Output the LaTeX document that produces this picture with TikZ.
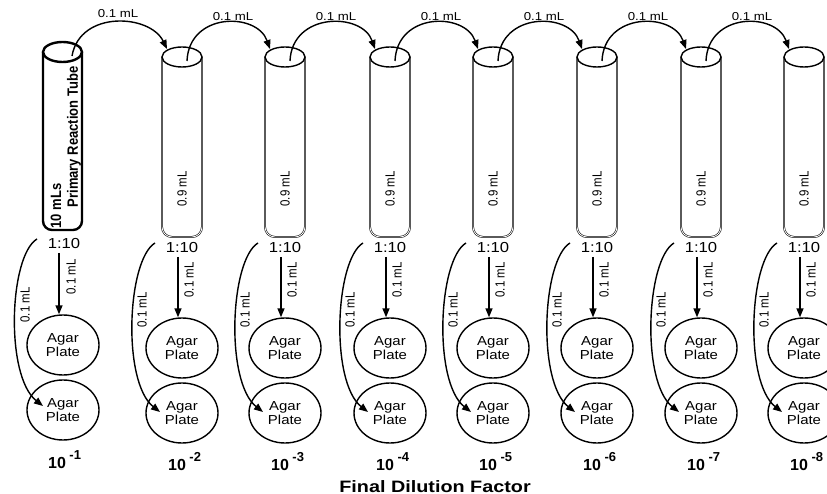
\documentclass[tikz,border=0pt]{standalone}
\usepackage{fontspec}
\setmainfont{Liberation Sans}
\usepackage{graphicx}
\usetikzlibrary{shapes.geometric,arrows.meta,calc}
\newcommand\hsc[1]{\scalebox{1.15}[1]{#1}}
\newcommand\vsc[1]{\scalebox{1}[1.15]{#1}}
\begin{document}
\begin{tikzpicture}[x=1pt,y=-1pt,
  arr/.style={line width=1.4pt,-{Triangle[length=9pt,width=7pt]}},
  plate/.style={ellipse,draw,line width=1.4pt,minimum width=72pt,minimum height=60pt,inner sep=0pt,align=center,font=\fontsize{13}{14}\selectfont},
  ttop/.style={ellipse,draw,line width=1.4pt,minimum width=40pt,minimum height=20pt,inner sep=0pt},
  tubeside/.style={line width=0.55pt,double=white,double distance=0.8pt,rounded corners=10pt},
  vlab/.style={rotate=90,inner sep=0pt,font=\fontsize{11.5}{11.5}\selectfont},
  toplab/.style={inner sep=0pt,font=\fontsize{11.5}{11.5}\selectfont},
  ratio/.style={inner sep=0pt,font=\fontsize{14.5}{14.5}\selectfont},
  factor/.style={anchor=base west,inner sep=0pt,font=\bfseries\fontsize{16}{16}\selectfont}]
\useasboundingbox (0,0) rectangle (827,494);
\clip (0,0) rectangle (827,494);

% primary tube
\draw[line width=2.4pt,rounded corners=9pt] (43,52) -- (43,230) -- (82,230) -- (82,52);
\node[ttop,line width=2.4pt,minimum width=39pt] (t1) at (62.5,52) {};
\node[vlab,font=\bfseries\fontsize{13}{13}\selectfont] (prt) at (74,137) {\vsc{Primary Reaction Tube}};
\node[vlab,font=\bfseries\fontsize{13}{13}\selectfont] (tml) at (56,206) {\vsc{10 mLs}};

% column 1 lower part
\node[ratio] (r1) at (64,244) {\hsc{1:10}};
\node[plate] (pa1) at (63,345) {\hsc{Agar}\\\hsc{Plate}};
\node[plate] (pb1) at (63,410) {\hsc{Agar}\\\hsc{Plate}};
\coordinate (v1) at (59,253);
\draw[arr] (v1) -- (v1 |- pa1.north);
\node[vlab] (d1) at (71,277) {\vsc{0.1 mL}};
\coordinate (s1) at (37,239);
\draw[arr] (s1) .. controls +(-28,17) and +(-38,-30) .. ($(pb1.center)+(-20,-4)$);
\node[vlab] (e1) at (25,305) {\vsc{0.1 mL}};
\node[factor] (f1) at (48,468) {10\hspace{3.5pt}\raisebox{9pt}{\fontsize{13}{13}\selectfont -1}};

% tubes 2..8
\foreach \i/\xc in {2/182,3/285,4/390,5/493,6/597,7/701,8/804}{
  \draw[tubeside] (\xc-20,57) -- (\xc-20,237) -- (\xc+20,237) -- (\xc+20,57);
  \node[ttop] (t\i) at (\xc,57) {};
  \node[vlab] (m\i) at (\xc,189) {\vsc{0.9 mL}};
  \node[ratio] (r\i) at (\xc,248) {\hsc{1:10}};
  \node[plate] (pa\i) at (\xc,348) {\hsc{Agar}\\\hsc{Plate}};
  \node[plate] (pb\i) at (\xc,413) {\hsc{Agar}\\\hsc{Plate}};
  \coordinate (v\i) at (\xc-4,257);
  \draw[arr] (v\i) -- (v\i |- pa\i.north);
  \node[vlab] (d\i) at (\xc+7,280) {\vsc{0.1 mL}};
  \coordinate (s\i) at (\xc-27,243);
  \draw[arr] (s\i) .. controls +(-28,17) and +(-38,-30) .. ($(pb\i.center)+(-22,-1)$);
  \node[vlab] (e\i) at (\xc-40,310) {\vsc{0.1 mL}};
  \node[factor] (f\i) at (\xc-14,470) {10\hspace{3.5pt}\raisebox{9pt}{\fontsize{13}{13}\selectfont -\i}};
}

% transfers between tubes
\draw[arr] ($(t1.center)+(9.5,4)$) .. controls +(8,-46) and +(-17,-35) .. ($(t2.center)+(-15,-8)$);
\node[toplab] (a1) at (118,14) {\hsc{0.1 mL}};
\foreach \i/\j/\xc in {2/3/182,3/4/285,4/5/390,5/6/493,6/7/597,7/8/701}{
  \draw[arr] ($(t\i.center)+(5,4)$) .. controls +(2,-49) and +(-13,-37) .. ($(t\j.center)+(-15,-8)$);
  \node[toplab] (a\i) at (\xc+51,17) {\hsc{0.1 mL}};
}

\node[anchor=base,inner sep=0pt,font=\bfseries\fontsize{16.5}{17}\selectfont] (title) at (435,492) {\scalebox{1.2}[1]{Final Dilution Factor}};
\end{tikzpicture}
\end{document}
